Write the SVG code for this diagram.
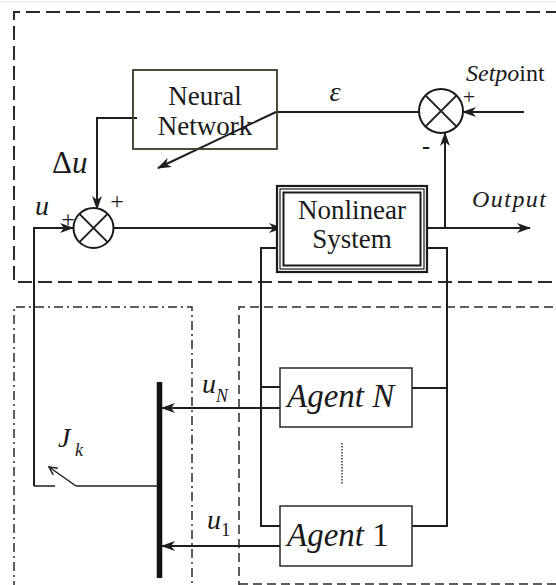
<svg xmlns="http://www.w3.org/2000/svg" width="556" height="585" viewBox="0 0 556 585" font-family="'Liberation Serif', 'DejaVu Serif', serif">
<style>
  .ln{fill:none;stroke:#1e1e1e;stroke-width:2}
  .thin{fill:none;stroke:#1e1e1e;stroke-width:1.5}
  .box{fill:#fff;stroke:#2a2a2a;stroke-width:1.5}
  text{font-family:'Liberation Serif','DejaVu Serif',serif;fill:#1a1a1a}
  .i{font-style:italic}
  .dash{fill:none;stroke:#2a2a2a;stroke-width:2;stroke-dasharray:14 6}
  .dash2{fill:none;stroke:#2a2a2a;stroke-width:1.5;stroke-dasharray:9 5}
  .dashdot{fill:none;stroke:#2a2a2a;stroke-width:1.5;stroke-dasharray:9 4 2 4}
</style>
<defs>
  <marker id="ah" viewBox="0 0 14 10" refX="13" refY="5" markerWidth="14" markerHeight="10" markerUnits="userSpaceOnUse" orient="auto">
    <path d="M0,0 L14,5 L0,10 L4,5 z" fill="#1e1e1e"/>
  </marker>
  <marker id="ao" viewBox="0 0 10 10" refX="9" refY="5" markerWidth="10" markerHeight="10" markerUnits="userSpaceOnUse" orient="auto">
    <path d="M1,1 L9,5 L1,9" fill="none" stroke="#1e1e1e" stroke-width="1.5"/>
  </marker>
</defs>
<rect width="556" height="585" fill="#fff"/>
<line x1="0" y1="2" x2="556" y2="2" stroke="#dfe5ea" stroke-width="1"/>

<g id="frames">
  <path class="dash" d="M560,12 H14 V282 H560"/>
  <path class="dashdot" d="M14,590 V307 H192 V590"/>
  <path class="dash2" d="M239,590 V307 H560 M239,584 H560"/>
</g>

<g id="connectors">
  <path class="ln" d="M419,112 H276"/>
  <path class="ln" d="M276,112 L158,168" marker-end="url(#ah)"/>
  <path class="ln" d="M524,112 H463" marker-end="url(#ah)"/>
  <path class="ln" d="M445,229 V133" marker-end="url(#ah)"/>
  <path class="ln" d="M137,118 H97 V209" marker-end="url(#ah)"/>
  <path class="ln" d="M34,486 V228 H73" marker-end="url(#ah)"/>
  <path class="ln" d="M114,228 H282" marker-end="url(#ah)"/>
  <path class="ln" d="M427,228 H530" marker-end="url(#ah)"/>
  <path class="ln" d="M277,248 H261 V526 H280 M261,387 H280"/>
  <path class="ln" d="M427,248 H447 V526 H410 M447,388 H410"/>
  <path class="ln" d="M280,408 H162" marker-end="url(#ah)"/>
  <path class="ln" d="M280,546 H162" marker-end="url(#ah)"/>
  <path class="thin" d="M34,486 H55"/>
  <path class="thin" d="M76,486 L49,467" marker-end="url(#ao)"/>
  <path class="thin" d="M76,486 H157"/>
  <line x1="342" y1="443" x2="342" y2="485" stroke="#333" stroke-width="1.5" stroke-dasharray="1.5 1.5"/>
</g>

<g id="neural-network">
  <rect x="133" y="70" width="144" height="79" fill="none" stroke="#3a3a28" stroke-width="1.8"/>
  <text x="205" y="105" font-size="27" text-anchor="middle">Neural</text>
  <text x="205" y="135" font-size="27" text-anchor="middle">Network</text>
</g>

<g id="nonlinear-system">
  <rect x="277" y="186" width="150" height="86" fill="#fff" stroke="#1a1a1a" stroke-width="2.2"/>
  <rect x="280" y="189" width="144" height="80" fill="none" stroke="#1a1a1a" stroke-width="1.2"/>
  <rect x="283.5" y="192.5" width="137" height="73" fill="none" stroke="#1a1a1a" stroke-width="2"/>
  <text x="352" y="219" font-size="27" text-anchor="middle">Nonlinear</text>
  <text x="352" y="248" font-size="27" text-anchor="middle">System</text>
</g>

<g id="sum-error">
  <circle cx="441" cy="111" r="22" fill="#fff" stroke="#1a1a1a" stroke-width="2"/>
  <path class="ln" d="M425.4,95.4 L456.6,126.6 M456.6,95.4 L425.4,126.6"/>
  <text x="469" y="104" font-size="22" text-anchor="middle">+</text>
  <text x="426" y="154" font-size="24" font-weight="bold" text-anchor="middle">-</text>
</g>

<g id="sum-control">
  <circle cx="93.5" cy="228" r="20" fill="#fff" stroke="#1a1a1a" stroke-width="2"/>
  <path class="ln" d="M79.4,213.9 L107.6,242.1 M107.6,213.9 L79.4,242.1"/>
  <text x="117" y="209" font-size="24" text-anchor="middle">+</text>
  <text x="68" y="227" font-size="24" text-anchor="middle">+</text>
</g>

<g id="bus">
  <line x1="159.5" y1="382" x2="159.5" y2="578" stroke="#111" stroke-width="5.5"/>
</g>

<g id="agent-n">
  <rect class="box" x="280" y="368" width="132" height="59"/>
  <text class="i" x="287" y="407" font-size="33">Agent N</text>
</g>

<g id="agent-1">
  <rect class="box" x="280" y="506" width="132" height="60"/>
  <text x="287" y="546" font-size="33"><tspan font-style="italic">Agent</tspan> 1</text>
</g>

<g id="labels">
  <text class="i" x="466" y="81" font-size="24">Setpo<tspan font-style="normal">int</tspan></text>
  <text class="i" x="335" y="101" font-size="28" text-anchor="middle">ε</text>
  <text class="i" x="472" y="207" font-size="24" textLength="74">Output</text>
  <text x="52" y="173" font-size="31">Δ<tspan font-style="italic">u</tspan></text>
  <text class="i" x="35" y="215" font-size="28">u</text>
  <text class="i" x="58" y="447" font-size="28">J</text>
  <text class="i" x="75" y="456" font-size="18">k</text>
  <text class="i" x="202" y="393" font-size="28">u</text>
  <text class="i" x="216" y="402" font-size="18">N</text>
  <text class="i" x="207" y="529" font-size="28">u</text>
  <text x="221" y="536" font-size="19">1</text>
</g>
</svg>
